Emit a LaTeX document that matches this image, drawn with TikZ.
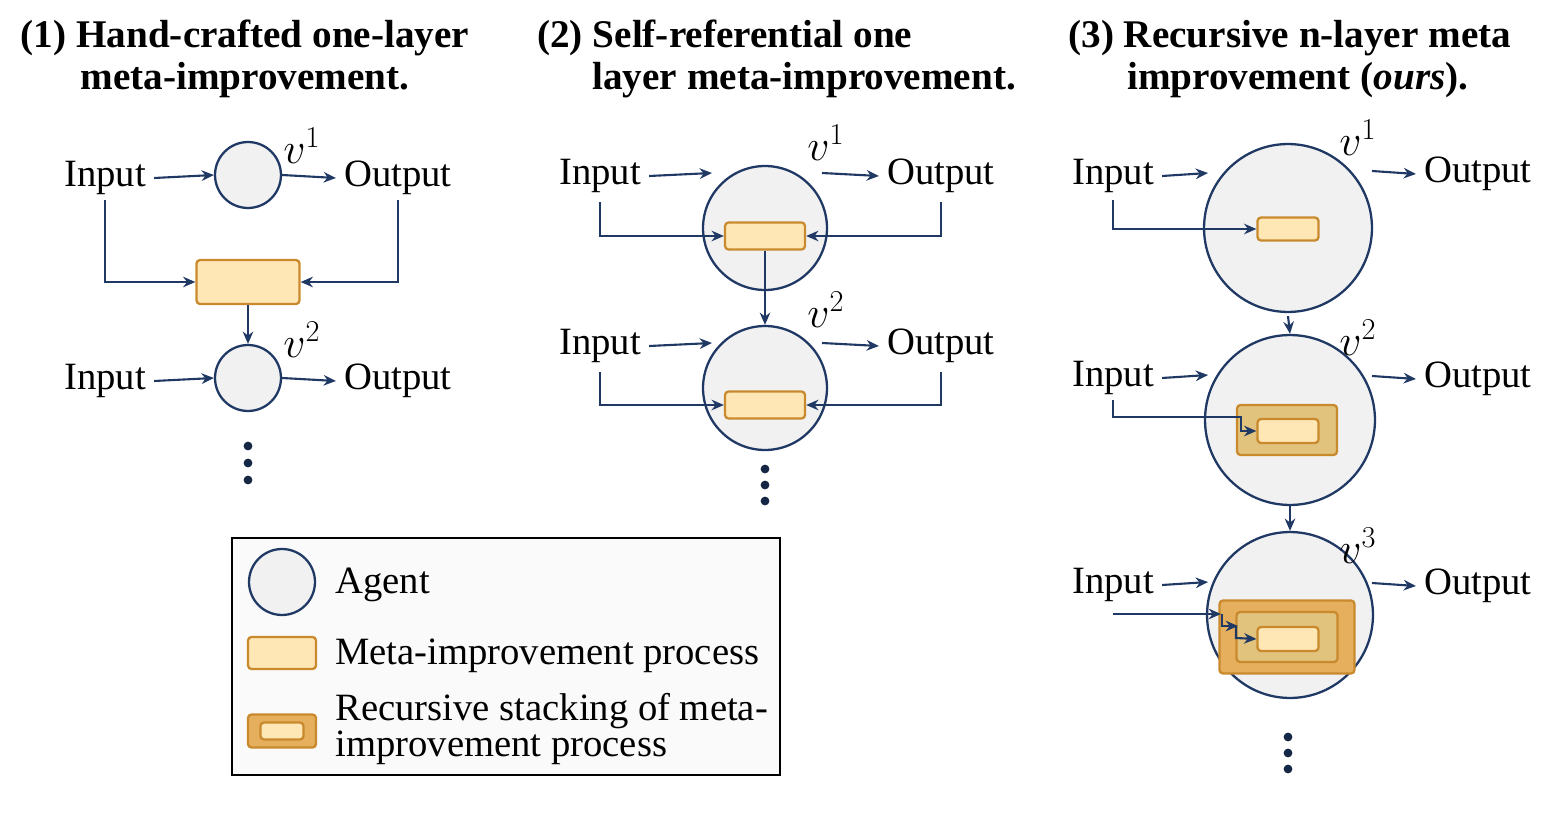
\documentclass[tikz,border=0pt]{standalone}
\usepackage{fontspec}
\setmainfont{Liberation Serif}
\usetikzlibrary{arrows.meta}
\definecolor{navy}{HTML}{1F3864}
\definecolor{agentfill}{HTML}{F1F1F1}
\definecolor{metafill}{HTML}{FFE7B5}
\definecolor{metadraw}{HTML}{C98A2E}
\definecolor{midfill}{HTML}{E2C37E}
\definecolor{outfill}{HTML}{E5AF5E}
\tikzset{
  agent/.style={circle,draw=navy,line width=1.3pt,fill=agentfill,inner sep=0pt,minimum size=#1*0.04cm},
  box/.style n args={3}{draw=metadraw,line width=1.3pt,fill=#1,rounded corners=2pt,inner sep=0pt,minimum width=#2*0.02cm,minimum height=#3*0.02cm},
  arr/.style={draw=navy,line width=1.2pt,-{Stealth[length=7pt,width=6pt]}},
  txt/.style={font=\fontsize{22}{24}\selectfont,inner sep=0pt,yshift=-0.06cm},
  vlab/.style={font=\fontsize{27}{28}\selectfont,inner sep=0pt},
  ttl/.style={font=\bfseries\fontsize{22.3}{24}\selectfont,inner sep=0pt},
  dot/.style={circle,fill=navy!70!black,inner sep=0pt,minimum size=5pt}
}
\begin{document}
\begin{tikzpicture}[x=0.02cm,y=-0.02cm]
\useasboundingbox (0,0) rectangle (1559,828);
% titles
\node[ttl] (t1a) at (245,38) {(1) Hand-crafted one-layer};
\node[ttl] (t1b) at (245,80) {meta-improvement.};
\node[ttl,anchor=west] (t2a) at (537,38) {(2) Self-referential one};
\node[ttl,anchor=west] (t2b) at (592,80) {layer meta-improvement.};
\node[ttl,anchor=west] (t3a) at (1068,38) {(3) Recursive n-layer meta};
\node[ttl,anchor=west] (t3b) at (1127,80) {improvement (\textit{ours}).};

% ---------- panel 1
\node[agent=33] (a1) at (248,175) {};
\node[txt] (i1) at (105,175) {Input};
\node[txt] (o1) at (398,175) {Output};
\node[vlab] (v1) at (302,146) {$v^1$};
\node[box={metafill}{103}{44}] (m1) at (248,282) {};
\draw[arr] (i1.east) ++(8,0) coordinate (i1e) -- (a1.west);
\draw[arr] (a1.east) -- ([xshift=-8*0.02cm]o1.west);
\draw[arr] (105,200) |- (m1.west);
\draw[arr] (398,200) |- (m1.east);
\node[agent=33] (a2) at (248,378) {};
\node[txt] (i2) at (105,378) {Input};
\node[txt] (o2) at (398,378) {Output};
\node[vlab] (v2) at (302,340) {$v^2$};
\draw[arr] (m1.south) -- (a2.north);
\draw[arr] ([xshift=8*0.02cm]i2.east) -- (a2.west);
\draw[arr] (a2.east) -- ([xshift=-8*0.02cm]o2.west);
\node[dot] (d11) at (248,446) {};
\node[dot] (d12) at (248,463) {};
\node[dot] (d13) at (248,480) {};

% ---------- panel 2
\node[agent=62] (b1) at (765,228) {};
\node[txt] (bi1) at (600,173) {Input};
\node[txt] (bo1) at (941,173) {Output};
\node[vlab] (bv1) at (826,143) {$v^1$};
\node[box={metafill}{80}{27}] (bm1) at (765,236) {};
\draw[arr] ([xshift=8*0.02cm]bi1.east) -- (712,173);
\draw[arr] (822,173) -- ([xshift=-8*0.02cm]bo1.west);
\draw[arr] (600,202) |- (bm1.west);
\draw[arr] (941,202) |- (bm1.east);
\node[agent=62] (b2) at (765,388) {};
\node[txt] (bi2) at (600,343) {Input};
\node[txt] (bo2) at (941,343) {Output};
\node[vlab] (bv2) at (826,310) {$v^2$};
\node[box={metafill}{80}{27}] (bm2) at (765,405) {};
\draw[arr] (bm1.south) -- (b2.north);
\draw[arr] ([xshift=8*0.02cm]bi2.east) -- (712,343);
\draw[arr] (822,343) -- ([xshift=-8*0.02cm]bo2.west);
\draw[arr] (600,372) |- (bm2.west);
\draw[arr] (941,372) |- (bm2.east);
\node[dot] (d21) at (765,469) {};
\node[dot] (d22) at (765,485) {};
\node[dot] (d23) at (765,501) {};

% ---------- panel 3
\node[agent=84] (c1) at (1288,228) {};
\node[txt] (ci1) at (1113,173) {Input};
\node[txt] (co1) at (1478,171) {Output};
\node[vlab] (cv1) at (1358,138) {$v^1$};
\node[box={metafill}{61}{23}] (cm1) at (1288,229) {};
\draw[arr] ([xshift=8*0.02cm]ci1.east) -- (1208,173);
\draw[arr] (1372,171) -- ([xshift=-8*0.02cm]co1.west);
\draw[arr] (1113,200) |- (cm1.west);

\node[agent=85] (c2) at (1290,420) {};
\node[txt] (ci2) at (1113,375) {Input};
\node[txt] (co2) at (1478,376) {Output};
\node[vlab] (cv2) at (1358,338) {$v^2$};
\node[box={midfill}{100}{50}] (cn2) at (1287,430) {};
\node[box={metafill}{61}{24}] (cm2) at (1288,431) {};
\draw[arr] ([xshift=8*0.02cm]ci2.east) -- (1208,375);
\draw[arr] (1372,376) -- ([xshift=-8*0.02cm]co2.west);
\draw[arr] (1113,400) -- (1113,417) -- (1241,417) -- (1241,431) -- (cm2.west);
\draw[arr] (c1.south) ++(0,3) coordinate (c1s) -- (c2.north);

\node[agent=83] (c3) at (1290,615) {};
\node[txt] (ci3) at (1113,582) {Input};
\node[txt] (co3) at (1478,583) {Output};
\node[vlab] (cv3) at (1358,546) {$v^3$};
\node[box={outfill}{135}{73}] (co3b) at (1287,637) {};
\node[box={midfill}{101}{50}] (cn3) at (1287,637) {};
\node[box={metafill}{61}{24}] (cm3) at (1288,639) {};
\draw[arr] ([xshift=8*0.02cm]ci3.east) -- (1208,582);
\draw[arr] (1372,583) -- ([xshift=-8*0.02cm]co3.west);
\draw[arr] (1113,614) -- (1221,614);
\draw[arr] (1222,614) -- (1222,626) -- (1238,626);
\draw[arr] (1236,626) -- (1236,638) -- (cm3.west);
\draw[arr] (c2.south) -- (c3.north);
\node[dot] (d31) at (1288,737) {};
\node[dot] (d32) at (1288,753) {};
\node[dot] (d33) at (1288,769) {};

% ---------- legend
\node[draw=black,line width=1.2pt,fill=white!98!black,minimum width=548*0.02cm,minimum height=237*0.02cm,inner sep=0pt] (leg) at (506,656.5) {};
\node[agent=33] (la) at (282,582) {};
\node[txt,anchor=west] (lat) at (335,582) {Agent};
\node[box={metafill}{68}{32}] (lm) at (282,653) {};
\node[txt,anchor=west] (lmt) at (335,653) {Meta-improvement process};
\node[box={outfill}{68}{33}] (ls) at (282,731) {};
\node[box={metafill}{43}{17}] (ls2) at (282,731) {};
\node[txt,anchor=west,align=left,font=\fontsize{22}{17}\selectfont] (lst) at (335,726) {Recursive stacking of meta-\\improvement process};
\end{tikzpicture}
\end{document}
